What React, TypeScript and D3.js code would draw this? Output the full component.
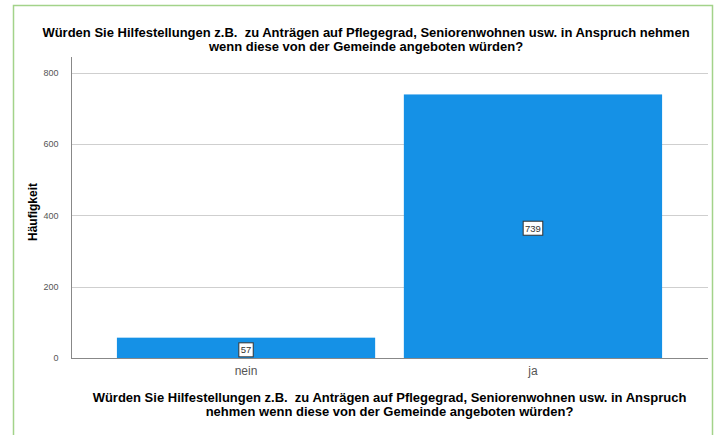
import * as d3 from "d3";
import React, { useEffect, useRef } from "react";

const categories = ["nein", "ja"];
const counts = [57, 739];
const yTicks = [0, 200, 400, 600, 800];
const titleLines = [
  "Würden Sie Hilfestellungen z.B.  zu Anträgen auf Pflegegrad, Seniorenwohnen usw. in Anspruch nehmen",
  "wenn diese von der Gemeinde angeboten würden?",
];
const xTitleLines = [
  "Würden Sie Hilfestellungen z.B.  zu Anträgen auf Pflegegrad, Seniorenwohnen usw. in Anspruch",
  "nehmen wenn diese von der Gemeinde angeboten würden?",
];
const yTitle = "Häufigkeit";

const App: React.FC = () => {
  const svgRef = useRef<SVGSVGElement>(null);

  useEffect(() => {
    const svg = d3.select(svgRef.current);
    svg.selectAll("*").remove();
    const font = "Liberation Sans, Arial, sans-serif";

    // frame
    svg
      .append("rect")
      .attr("x", 13.5)
      .attr("y", 5.5)
      .attr("width", 699)
      .attr("height", 440)
      .attr("fill", "white")
      .attr("stroke", "#a3d38a")
      .attr("stroke-width", 1.5);

    const left = 71;
    const right = 708;
    const top = 57;
    const bottom = 358;

    const x = d3
      .scaleBand()
      .domain(categories)
      .range([left, right])
      .paddingInner(0.1)
      .paddingOuter(0.16);
    const y = d3.scaleLinear().domain([0, 844]).range([bottom, top]);

    // gridlines
    svg
      .append("g")
      .selectAll("line")
      .data(yTicks.filter((t) => t > 0))
      .join("line")
      .attr("x1", left)
      .attr("x2", right)
      .attr("y1", (d) => Math.round(y(d)) + 0.5)
      .attr("y2", (d) => Math.round(y(d)) + 0.5)
      .attr("stroke", "#cfcfcf")
      .attr("stroke-width", 1);

    // bars
    svg
      .append("g")
      .selectAll("rect")
      .data(counts)
      .join("rect")
      .attr("x", (_, i) => x(categories[i]) || 0)
      .attr("width", x.bandwidth())
      .attr("y", (d) => y(d))
      .attr("height", (d) => y(0) - y(d))
      .attr("fill", "#1591e6");

    // axes
    const yAxis = svg
      .append("g")
      .attr("transform", `translate(${left + 0.5},0)`)
      .call(d3.axisLeft(y).tickValues(yTicks).tickSize(0).tickPadding(13));
    yAxis.select(".domain").attr("stroke", "#888").attr("d", `M0,${top}V${bottom}`);
    yAxis
      .selectAll("text")
      .attr("font-family", font)
      .attr("font-size", 9)
      .attr("fill", "#555");

    const xAxis = svg
      .append("g")
      .attr("transform", `translate(0,${Math.round(bottom) + 0.5})`)
      .call(d3.axisBottom(x).tickSize(0).tickPadding(8));
    xAxis.select(".domain").attr("stroke", "#888").attr("d", `M${left},0H${right}`);
    xAxis
      .selectAll("text")
      .attr("font-family", font)
      .attr("font-size", 12)
      .attr("fill", "#555");

    // value labels
    const labels = svg
      .append("g")
      .selectAll("g")
      .data(counts)
      .join("g")
      .attr(
        "transform",
        (d, i) =>
          `translate(${(x(categories[i]) || 0) + x.bandwidth() / 2},${(y(d) + y(0)) / 2 + 2})`
      );
    labels
      .append("rect")
      .attr("x", (d) => -(String(d).length * 2.6 + 2))
      .attr("y", -7)
      .attr("width", (d) => String(d).length * 5.2 + 4)
      .attr("height", 14)
      .attr("fill", "white")
      .attr("stroke", "#333")
      .attr("stroke-width", 1);
    labels
      .append("text")
      .attr("text-anchor", "middle")
      .attr("dy", "0.35em")
      .attr("font-family", font)
      .attr("font-size", 9.5)
      .attr("fill", "#333")
      .text((d) => d);

    // titles
    svg
      .append("text")
      .attr("font-family", font)
      .attr("font-size", 13)
      .attr("font-weight", "bold")
      .attr("text-anchor", "middle")
      .style("white-space", "pre")
      .selectAll("tspan")
      .data(titleLines)
      .join("tspan")
      .attr("x", 366)
      .attr("y", (_, i) => 37 + i * 14)
      .text((d) => d);

    svg
      .append("text")
      .attr("font-family", font)
      .attr("font-size", 13)
      .attr("font-weight", "bold")
      .attr("text-anchor", "middle")
      .style("white-space", "pre")
      .selectAll("tspan")
      .data(xTitleLines)
      .join("tspan")
      .attr("x", (left + right) / 2)
      .attr("y", (_, i) => 402 + i * 14)
      .text((d) => d);

    svg
      .append("text")
      .attr("font-family", font)
      .attr("font-size", 12)
      .attr("font-weight", "bold")
      .attr("text-anchor", "middle")
      .attr("transform", `translate(37,212) rotate(-90)`)
      .text(yTitle);
  }, []);

  return (
    <svg
      ref={svgRef}
      width={720}
      height={435}
      style={{ position: "absolute", left: 0, top: 0, background: "white" }}
    />
  );
};

export default App;
